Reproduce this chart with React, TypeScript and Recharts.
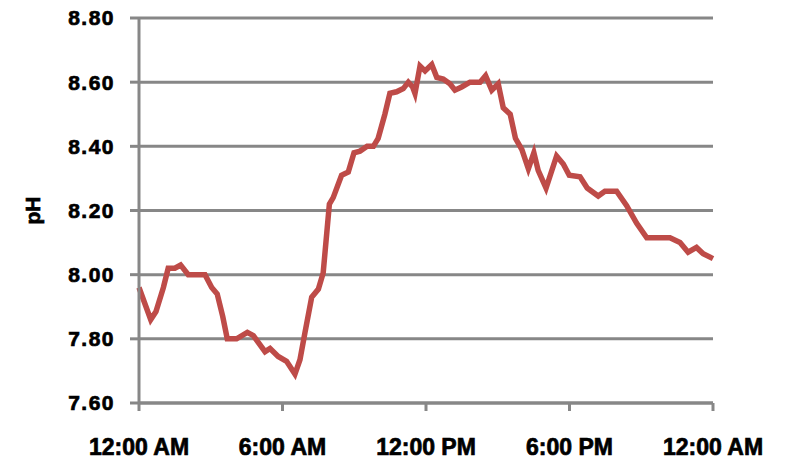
import React from "react";
import { LineChart, Line, XAxis, YAxis, CartesianGrid, Label } from "recharts";

// Hours since midnight for each reading
const hours: number[] = [
  0, 0.49, 0.71, 1.02, 1.22, 1.5, 1.74, 2.06, 2.76, 3.04, 3.27, 3.5, 3.69, 4.08,
  4.53, 4.78, 5.27, 5.48, 5.82, 6.17, 6.52, 6.73, 6.94, 7.22, 7.5, 7.7, 7.96,
  8.12, 8.47, 8.75, 8.99, 9.24, 9.54, 9.8, 10.0, 10.28, 10.49, 10.77, 11.05,
  11.26, 11.44, 11.54, 11.75, 11.96, 12.24, 12.45, 12.72, 13.0, 13.21, 13.49,
  13.84, 14.26, 14.49, 14.75, 15.02, 15.23, 15.52, 15.74, 16.01, 16.28, 16.51,
  16.69, 17.02, 17.46, 17.74, 17.99, 18.44, 18.74, 19.2, 19.48, 19.97, 20.39,
  20.81, 21.23, 22.2, 22.62, 22.96, 23.31, 23.59, 24,
];

// pH readings
const phValues: number[] = [
  7.96, 7.86, 7.885, 7.96, 8.02, 8.02, 8.03, 8.0, 8.0, 7.96, 7.94, 7.87, 7.8, 7.8,
  7.82, 7.81, 7.76, 7.77, 7.745, 7.73, 7.69, 7.735, 7.82, 7.93, 7.955, 8.005, 8.22,
  8.24, 8.31, 8.32, 8.38, 8.385, 8.4, 8.4, 8.425, 8.5, 8.565, 8.57, 8.58,
  8.6, 8.585, 8.565, 8.65, 8.635, 8.655, 8.615, 8.61, 8.595, 8.575, 8.585,
  8.6, 8.6, 8.62, 8.575, 8.595, 8.52, 8.5, 8.425, 8.39, 8.33, 8.38,
  8.325, 8.27, 8.37, 8.345, 8.31, 8.305, 8.27, 8.245, 8.26, 8.26, 8.215,
  8.16, 8.115, 8.115, 8.1, 8.07, 8.085, 8.065, 8.05,
];

const xTicks: number[] = [0, 6, 12, 18, 24];
const xTickLabels: string[] = ["12:00 AM", "6:00 AM", "12:00 PM", "6:00 PM", "12:00 AM"];
const yTicks: number[] = [7.6, 7.8, 8.0, 8.2, 8.4, 8.6, 8.8];

const data = hours.map((h, i) => ({ h, ph: phValues[i] }));

const GRAY = "#878787";
const FONT = "'Liberation Sans', Arial, sans-serif";

const YLabel = (props: any) => {
  const vb = props.viewBox || {};
  const cx = 32;
  const cy = (vb.y ?? 0) + (vb.height ?? 0) / 2;
  return (
    <text
      x={cx}
      y={cy}
      transform={`rotate(-90, ${cx}, ${cy})`}
      textAnchor="middle"
      dominantBaseline="central"
      fontFamily={FONT}
      fontWeight="bold"
      fontSize={21}
      fill="#000"
      stroke="#000"
      strokeWidth={0.7}
    >
      pH
    </text>
  );
};

export default function App() {
  return (
    <div style={{ position: "absolute", left: 0, top: 0, background: "#fff" }}>
      <LineChart
        width={788}
        height={463}
        data={data}
        margin={{ top: 18, right: 75, bottom: 0, left: 0 }}
      >
        <CartesianGrid vertical={false} stroke={GRAY} strokeWidth={3} />
        <XAxis
          dataKey="h"
          type="number"
          domain={[0, 24]}
          ticks={xTicks}
          tickFormatter={(v: number) => xTickLabels[xTicks.indexOf(v)]}
          height={60}
          stroke={GRAY}
          strokeWidth={3}
          tickLine={{ stroke: GRAY, strokeWidth: 3 }}
          tickSize={8}
          tickMargin={28}
          interval={0}
          tick={{ fill: "#000", stroke: "#000", strokeWidth: 0.7, fontFamily: FONT, fontWeight: "bold", fontSize: 23 }}
        />
        <YAxis
          type="number"
          domain={[7.6, 8.8]}
          ticks={yTicks}
          tickFormatter={(v: number) => v.toFixed(2)}
          width={139}
          stroke={GRAY}
          strokeWidth={3}
          tickLine={{ stroke: GRAY, strokeWidth: 3 }}
          tickSize={9}
          tickMargin={15}
          interval={0}
          tick={{ fill: "#000", stroke: "#000", strokeWidth: 0.7, fontFamily: FONT, fontWeight: "bold", fontSize: 21, letterSpacing: 1.5 }}
        >
          <Label content={YLabel} />
        </YAxis>
        <Line
          type="linear"
          dataKey="ph"
          stroke="#BE4B48"
          strokeWidth={5.5}
          dot={false}
          isAnimationActive={false}
        />
      </LineChart>
    </div>
  );
}
